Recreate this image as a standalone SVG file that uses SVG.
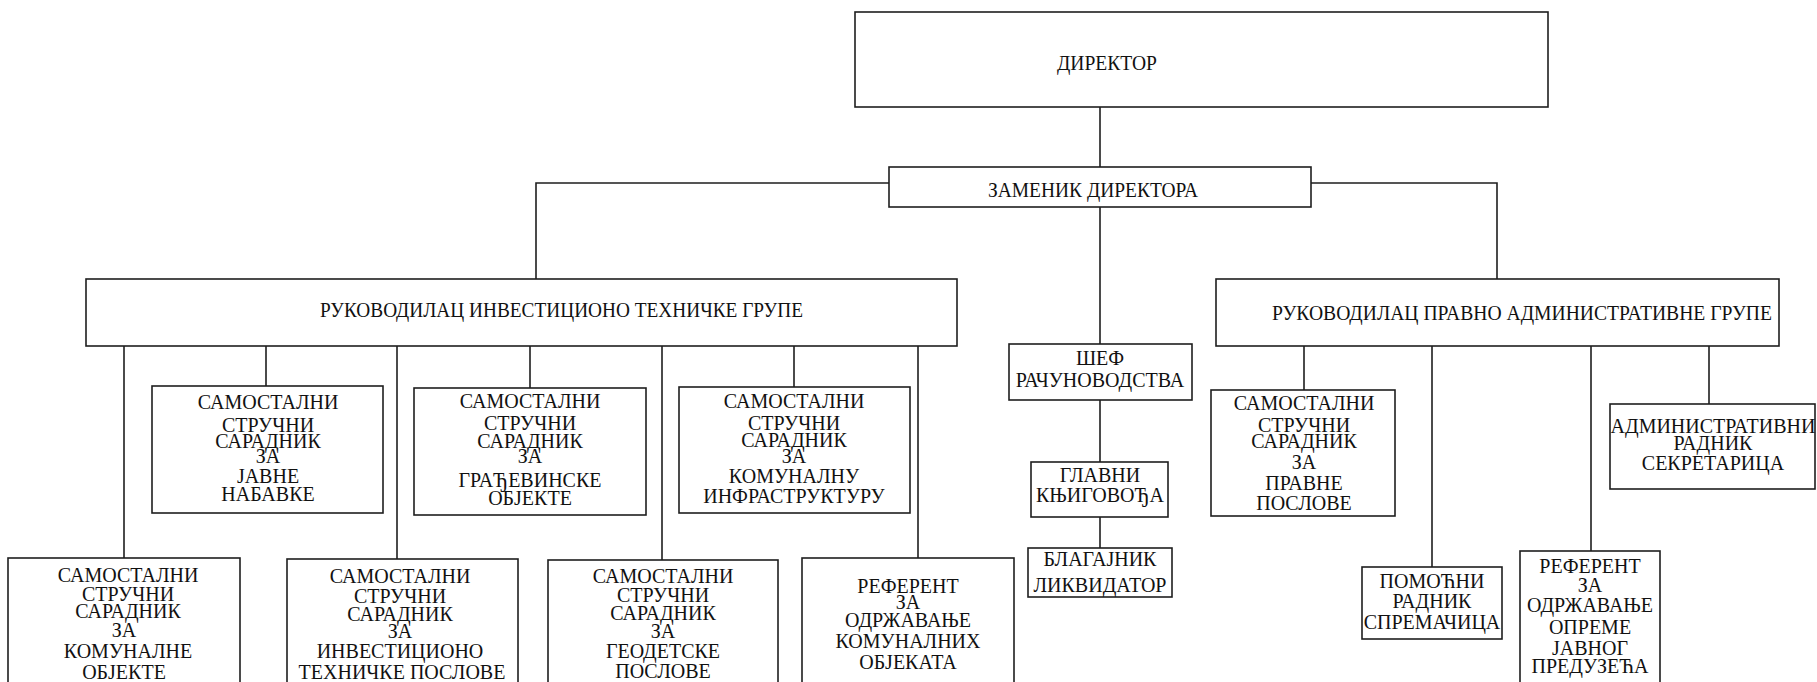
<svg xmlns="http://www.w3.org/2000/svg" width="1817" height="682" viewBox="0 0 1817 682">
<style>
.box{fill:#fff;stroke:#1e1e1e;stroke-width:1.6}
.t{font-family:"Liberation Serif","Times New Roman",serif;font-size:20px;text-anchor:middle;fill:#111}
.s{text-anchor:start}
.c{fill:none;stroke:#1e1e1e;stroke-width:1.6}
</style>
<rect width="1817" height="682" fill="#fff"/>
<g id="connectors" class="c">
<path d="M1100 107V167"/>
<path d="M889 183H536V279"/>
<path d="M1311 183H1497V279"/>
<path d="M1100 207V344"/>
<path d="M1100 400V462"/>
<path d="M1100 517V548"/>
<path d="M124 346V558"/>
<path d="M266 346V386"/>
<path d="M397 346V559"/>
<path d="M530 346V388"/>
<path d="M662 346V560"/>
<path d="M794 346V387"/>
<path d="M918 346V558"/>
<path d="M1304 346V390"/>
<path d="M1432 346V567"/>
<path d="M1591 346V551"/>
<path d="M1709 346V404"/>
</g>
<g id="director"><rect class="box" x="855" y="12" width="693" height="95"/><text class="t s" x="1057" y="70" textLength="100" lengthAdjust="spacingAndGlyphs">ДИРЕКТОР</text></g>
<g id="zamenik"><rect class="box" x="889" y="167" width="422" height="40"/><text class="t s" x="988" y="197" textLength="210" lengthAdjust="spacingAndGlyphs">ЗАМЕНИК ДИРЕКТОРА</text></g>
<g id="rukovodilac-itg"><rect class="box" x="86" y="279" width="871" height="67"/><text class="t s" x="320" y="317" textLength="483" lengthAdjust="spacingAndGlyphs">РУКОВОДИЛАЦ ИНВЕСТИЦИОНО ТЕХНИЧКЕ ГРУПЕ</text></g>
<g id="rukovodilac-pag"><rect class="box" x="1216" y="279" width="563" height="67"/><text class="t s" x="1272" y="320" textLength="500" lengthAdjust="spacingAndGlyphs">РУКОВОДИЛАЦ ПРАВНО АДМИНИСТРАТИВНЕ ГРУПЕ</text></g>
<g id="javne-nabavke"><rect class="box" x="152" y="386" width="231" height="127"/><text class="t" x="268"><tspan x="268" y="409">САМОСТАЛНИ</tspan><tspan x="268" y="432">СТРУЧНИ</tspan><tspan x="268" y="448">САРАДНИК</tspan><tspan x="268" y="463">ЗА</tspan><tspan x="268" y="483">ЈАВНЕ</tspan><tspan x="268" y="501">НАБАВКЕ</tspan></text></g>
<g id="gradjevinske"><rect class="box" x="414" y="388" width="232" height="127"/><text class="t" x="530"><tspan x="530" y="408">САМОСТАЛНИ</tspan><tspan x="530" y="430">СТРУЧНИ</tspan><tspan x="530" y="448">САРАДНИК</tspan><tspan x="530" y="463">ЗА</tspan><tspan x="530" y="487">ГРАЂЕВИНСКЕ</tspan><tspan x="530" y="505">ОБЈЕКТЕ</tspan></text></g>
<g id="infrastruktura"><rect class="box" x="679" y="387" width="231" height="126"/><text class="t" x="794"><tspan x="794" y="408">САМОСТАЛНИ</tspan><tspan x="794" y="430">СТРУЧНИ</tspan><tspan x="794" y="447">САРАДНИК</tspan><tspan x="794" y="463">ЗА</tspan><tspan x="794" y="483">КОМУНАЛНУ</tspan><tspan x="794" y="503">ИНФРАСТРУКТУРУ</tspan></text></g>
<g id="komunalne-objekte"><rect class="box" x="8" y="558" width="232" height="132"/><text class="t" x="128"><tspan x="128" y="582">САМОСТАЛНИ</tspan><tspan x="128" y="601">СТРУЧНИ</tspan><tspan x="128" y="618">САРАДНИК</tspan><tspan x="124" y="637">ЗА</tspan><tspan x="128" y="658">КОМУНАЛНЕ</tspan><tspan x="124" y="679">ОБЈЕКТЕ</tspan></text></g>
<g id="investiciono"><rect class="box" x="287" y="559" width="231" height="131"/><text class="t" x="400"><tspan x="400" y="583">САМОСТАЛНИ</tspan><tspan x="400" y="603">СТРУЧНИ</tspan><tspan x="400" y="621">САРАДНИК</tspan><tspan x="400" y="638">ЗА</tspan><tspan x="400" y="658">ИНВЕСТИЦИОНО</tspan><tspan x="402" y="679">ТЕХНИЧКЕ ПОСЛОВЕ</tspan></text></g>
<g id="geodetske"><rect class="box" x="548" y="560" width="230" height="130"/><text class="t" x="663"><tspan x="663" y="583">САМОСТАЛНИ</tspan><tspan x="663" y="602">СТРУЧНИ</tspan><tspan x="663" y="620">САРАДНИК</tspan><tspan x="663" y="638">ЗА</tspan><tspan x="663" y="658">ГЕОДЕТСКЕ</tspan><tspan x="663" y="678">ПОСЛОВЕ</tspan></text></g>
<g id="referent-komunalni"><rect class="box" x="802" y="558" width="212" height="132"/><text class="t" x="908"><tspan x="908" y="593">РЕФЕРЕНТ</tspan><tspan x="908" y="609">ЗА</tspan><tspan x="908" y="627">ОДРЖАВАЊЕ</tspan><tspan x="908" y="648">КОМУНАЛНИХ</tspan><tspan x="908" y="669">ОБЈЕКАТА</tspan></text></g>
<g id="sef-racunovodstva"><rect class="box" x="1009" y="344" width="183" height="56"/><text class="t" x="1100"><tspan x="1100" y="365">ШЕФ</tspan><tspan x="1100" y="387">РАЧУНОВОДСТВА</tspan></text></g>
<g id="glavni-knjigovodja"><rect class="box" x="1031" y="462" width="137" height="55"/><text class="t" x="1100"><tspan x="1100" y="482">ГЛАВНИ</tspan><tspan x="1100" y="502">КЊИГОВОЂА</tspan></text></g>
<g id="blagajnik"><rect class="box" x="1028" y="548" width="144" height="49"/><text class="t" x="1100"><tspan x="1100" y="566">БЛАГАЈНИК</tspan><tspan x="1100" y="592">ЛИКВИДАТОР</tspan></text></g>
<g id="pravne-poslove"><rect class="box" x="1211" y="390" width="184" height="126"/><text class="t" x="1304"><tspan x="1304" y="410">САМОСТАЛНИ</tspan><tspan x="1304" y="432">СТРУЧНИ</tspan><tspan x="1304" y="448">САРАДНИК</tspan><tspan x="1304" y="469">ЗА</tspan><tspan x="1304" y="490">ПРАВНЕ</tspan><tspan x="1304" y="510">ПОСЛОВЕ</tspan></text></g>
<g id="pomocni-radnik"><rect class="box" x="1362" y="567" width="140" height="72"/><text class="t" x="1432"><tspan x="1432" y="588">ПОМОЋНИ</tspan><tspan x="1432" y="608">РАДНИК</tspan><tspan x="1432" y="629">СПРЕМАЧИЦА</tspan></text></g>
<g id="referent-opreme"><rect class="box" x="1520" y="551" width="140" height="140"/><text class="t" x="1590"><tspan x="1590" y="573">РЕФЕРЕНТ</tspan><tspan x="1590" y="592">ЗА</tspan><tspan x="1590" y="612">ОДРЖАВАЊЕ</tspan><tspan x="1590" y="634">ОПРЕМЕ</tspan><tspan x="1590" y="655">ЈАВНОГ</tspan><tspan x="1590" y="673">ПРЕДУЗЕЋА</tspan></text></g>
<g id="administrativni"><rect class="box" x="1610" y="404" width="205" height="85"/><text class="t" x="1713"><tspan x="1713" y="433">АДМИНИСТРАТИВНИ</tspan><tspan x="1713" y="450">РАДНИК</tspan><tspan x="1713" y="470">СЕКРЕТАРИЦА</tspan></text></g>
</svg>
